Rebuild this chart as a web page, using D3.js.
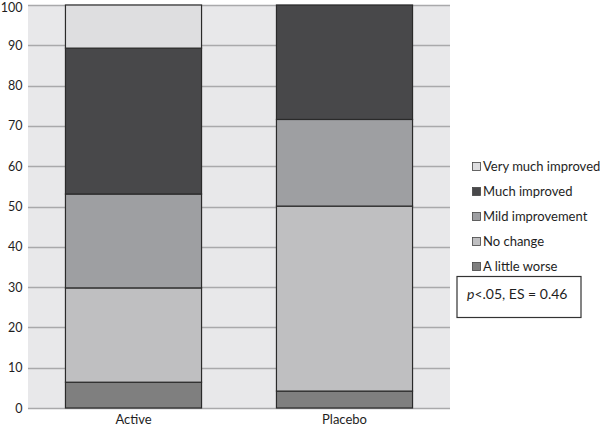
<!DOCTYPE html>
<html>
<head>
<meta charset="utf-8">
<script src="https://cdn.jsdelivr.net/npm/d3@7"></script>
<style>
  body { margin: 0; background: #fff; }
  text { font-family: Lato, "Open Sans", sans-serif; fill: #1e1e1e; }
</style>
</head>
<body>
<script>
// Chart data
var groups = ["Active", "Placebo"];
var responses = ["A little worse", "No change", "Mild improvement", "Much improved", "Very much improved"];
var activeValues = [6.4, 23.4, 23.3, 36.2, 10.7];
var placeboValues = [4.2, 45.9, 21.5, 28.4, 0];
var yTicks = [0, 10, 20, 30, 40, 50, 60, 70, 80, 90, 100];
var note = ", ES = 0.46";

var colors = ["#7f7f7f", "#bfbfc1", "#9e9fa2", "#48484a", "#dedee0"];

(function() {
  var width = 600, height = 427;
  var margin = {top: 5, left: 28, bottom: 19};
  var plotRight = 450;

  var svg = d3.select("body").append("svg")
      .attr("width", width)
      .attr("height", height);

  var x = d3.scaleBand()
      .domain(groups)
      .range([margin.left, plotRight])
      .paddingInner(0.355)
      .paddingOuter(0.1775);

  var y = d3.scaleLinear()
      .domain([0, 100])
      .range([height - margin.bottom, margin.top]);

  // plot background
  svg.append("rect")
      .attr("x", margin.left)
      .attr("y", y(100))
      .attr("width", plotRight - margin.left)
      .attr("height", y(0) - y(100))
      .attr("fill", "#e8e8ea");

  // gridlines
  svg.selectAll(".grid")
      .data(yTicks)
      .enter()
      .append("line")
      .attr("class", "grid")
      .attr("x1", margin.left)
      .attr("x2", plotRight)
      .attr("y1", function(d) { return Math.round(y(d)) + 0.5; })
      .attr("y2", function(d) { return Math.round(y(d)) + 0.5; })
      .attr("stroke", "#a9a9ab")
      .attr("stroke-width", 1.3);

  // y tick labels (top one nudged so it stays inside the picture)
  svg.selectAll(".ylab")
      .data(yTicks)
      .enter()
      .append("text")
      .attr("class", "ylab")
      .attr("x", 22.5)
      .attr("y", function(d) { return Math.max(y(d), 7); })
      .attr("dy", "0.36em")
      .attr("text-anchor", "end")
      .style("font-size", "12.5px")
      .text(function(d) { return d; });

  // stack the data
  var rows = groups.map(function(g, i) {
    var vals = i === 0 ? activeValues : placeboValues;
    var row = {group: g};
    responses.forEach(function(r, j) { row[r] = vals[j]; });
    return row;
  });
  var series = d3.stack().keys(responses)(rows);

  svg.selectAll(".layer")
      .data(series)
      .enter()
      .append("g")
      .attr("class", "layer")
      .attr("fill", function(d, i) { return colors[i]; })
      .selectAll("rect")
      .data(function(d) { return d.filter(function(s) { return s[1] - s[0] > 0; }); })
      .enter()
      .append("rect")
      .attr("x", function(d) { return x(d.data.group); })
      .attr("width", x.bandwidth())
      .attr("y", function(d) { return y(d[1]); })
      .attr("height", function(d) { return y(d[0]) - y(d[1]); })
      .attr("stroke", "#2a2a2a")
      .attr("stroke-width", 1.2);

  // x labels
  svg.selectAll(".xlab")
      .data(groups)
      .enter()
      .append("text")
      .attr("class", "xlab")
      .attr("x", function(d) { return x(d) + x.bandwidth() / 2; })
      .attr("y", 424)
      .attr("text-anchor", "middle")
      .style("font-size", "13px")
      .text(function(d) { return d; });

  // legend (top item = last series)
  var legend = svg.selectAll(".legend")
      .data(responses.slice().reverse())
      .enter()
      .append("g")
      .attr("class", "legend")
      .attr("transform", function(d, i) { return "translate(472," + (166 + i * 25) + ")"; });

  legend.append("rect")
      .attr("x", 0.5)
      .attr("y", -3.5)
      .attr("width", 8)
      .attr("height", 8)
      .attr("fill", function(d) { return colors[responses.indexOf(d)]; })
      .attr("stroke", "#444")
      .attr("stroke-width", 0.8);

  legend.append("text")
      .attr("x", 11)
      .attr("y", 0)
      .attr("dy", "0.38em")
      .style("font-size", "13px")
      .text(function(d) { return d; });

  // stats box
  svg.append("rect")
      .attr("x", 457)
      .attr("y", 276.5)
      .attr("width", 124)
      .attr("height", 41)
      .attr("fill", "#fff")
      .attr("stroke", "#333")
      .attr("stroke-width", 1.2);

  var t = svg.append("text")
      .attr("x", 467)
      .attr("y", 299)
      .style("font-size", "14px");
  t.append("tspan").style("font-style", "italic").text("p");
  t.append("tspan").text("<.05" + note);
})();
</script>
</body>
</html>
